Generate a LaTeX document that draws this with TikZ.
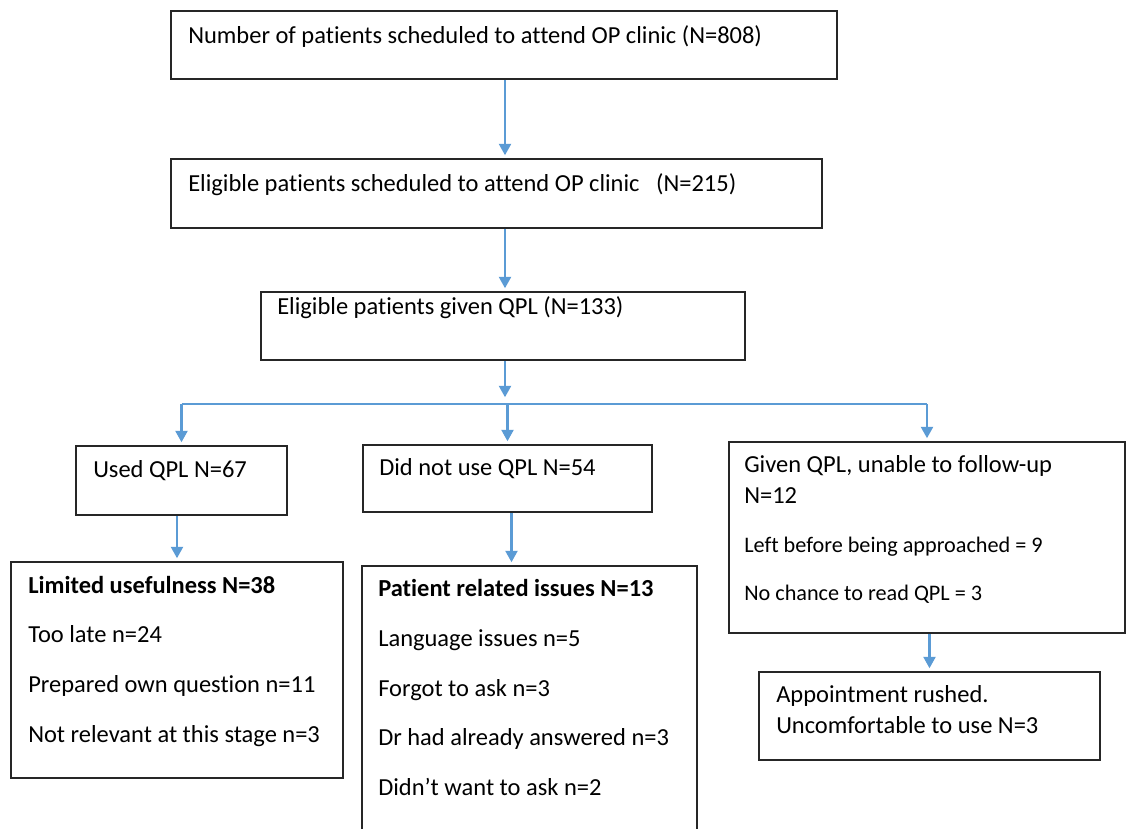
\documentclass[tikz,border=0pt]{standalone}
\usepackage{fontspec}
\setmainfont{Carlito}[Ligatures=NoCommon]
\usetikzlibrary{arrows.meta}
\definecolor{flowblue}{RGB}{91,155,213}

\tikzset{
	box/.style={draw=black!85, line width=1.4pt, rectangle, inner sep=0pt},
	txt/.style={anchor=base west, inner sep=0pt, font=\fontsize{17.4}{20}\selectfont},
	smalltxt/.style={txt, font=\fontsize{15.8}{18}\selectfont},
	boldtxt/.style={txt, font=\fontsize{17.4}{20}\selectfont\bfseries},
	flow/.style={draw=flowblue, line width=1.45pt},
	arr/.style={flow, -{Triangle[width=8.5pt,length=8pt]}, shorten >=2pt},
}

\begin{document}
\begin{tikzpicture}[x=0.025cm,y=-0.025cm]
	\fill[white] (0,0) rectangle (1127,829);
	\useasboundingbox (0,0) rectangle (1127,829);

	%boxes
	\node[box, minimum width=16.625cm, minimum height=1.7cm] (total) at (504,45) {};			%top
	\node[box, minimum width=16.275cm, minimum height=1.725cm] (eligible) at (496.5,193.5) {};
	\node[box, minimum width=12.1cm, minimum height=1.7cm] (given) at (503,326) {};
	%
	\node[box, minimum width=5.275cm, minimum height=1.725cm] (used) at (181.5,480.5) {};		%left
	\node[box, minimum width=7.225cm, minimum height=1.675cm] (notused) at (507.5,478.5) {};		%middle
	\node[box, minimum width=9.9cm, minimum height=4.775cm] (followup) at (927,537.5) {};		%right
	%
	\node[box, minimum width=8.3cm, minimum height=5.4cm] (limited) at (177,670) {};
	\node[box, minimum width=8.375cm, minimum height=6.85cm] (patient) at (529.5,703) {};		%runs off the bottom
	\node[box, minimum width=8.525cm, minimum height=2.2cm] (rushed) at (929.5,716) {};

	%box captions
	\node[txt] (totaltxt) at (188,43) {Number of patients scheduled to attend OP clinic (N=808)};
	\node[txt] (eligibletxt) at (188,191) {Eligible patients scheduled to attend OP clinic \ \ (N=215)};
	\node[txt] (giventxt) at (277,314) {Eligible patients given QPL (N=133)};
	\node[txt] (usedtxt) at (93,477) {Used QPL N=67};
	\node[txt] (notusedtxt) at (379,475) {Did not use QPL N=54};
	%
	\node[txt] (fol1) at (744,472) {Given QPL, unable to follow-up};
	\node[txt] (fol2) at (744,503) {N=12};
	\node[smalltxt] (fol3) at (744,552) {Left before being approached = 9};
	\node[smalltxt] (fol4) at (744,600) {No chance to read QPL = 3};
	%
	\node[boldtxt] (lim1) at (28,593) {Limited usefulness N=38};
	\node[txt] (lim2) at (28,642) {Too late n=24};
	\node[txt] (lim3) at (28,692) {Prepared own question n=11};
	\node[txt] (lim4) at (28,742) {Not relevant at this stage n=3};
	%
	\node[boldtxt] (pat1) at (378,596) {Patient related issues N=13};
	\node[txt] (pat2) at (378,646) {Language issues n=5};
	\node[txt] (pat3) at (378,696) {Forgot to ask n=3};
	\node[txt] (pat4) at (378,745) {Dr had already answered n=3};
	\node[txt] (pat5) at (378,795) {Didn’t want to ask n=2};
	%
	\node[txt] (rush1) at (776,702) {Appointment rushed.};
	\node[txt] (rush2) at (776,733) {Uncomfortable to use N=3};

	%splitting point
	\coordinate (hub) at (505,400);
	\coordinate (bar) at (505,404);

	%arrows down the middle
	\draw[arr] (hub |- total.south) -- (hub |- eligible.north);
	\draw[arr] (hub |- eligible.south) -- (hub |- given.north);
	\draw[arr] (hub |- given.south) -- (hub);

	%branch line
	\draw[flow] (used.north |- bar) -- (followup.north |- bar);
		\draw[arr] (used.north |- bar) -- (used.north);			%left
		\draw[arr] (notused.north |- bar) -- (notused.north);	%middle
		\draw[arr] (followup.north |- bar) -- (followup.north);	%right

	%lower arrows
	\draw[arr] (limited.north |- used.south) -- (limited.north);
	\draw[arr] ([xshift=0.1cm]notused.south) -- ([xshift=0.1cm]notused.south |- patient.north);
	\draw[arr] (rushed.north |- followup.south) -- (rushed.north);
\end{tikzpicture}
\end{document}
